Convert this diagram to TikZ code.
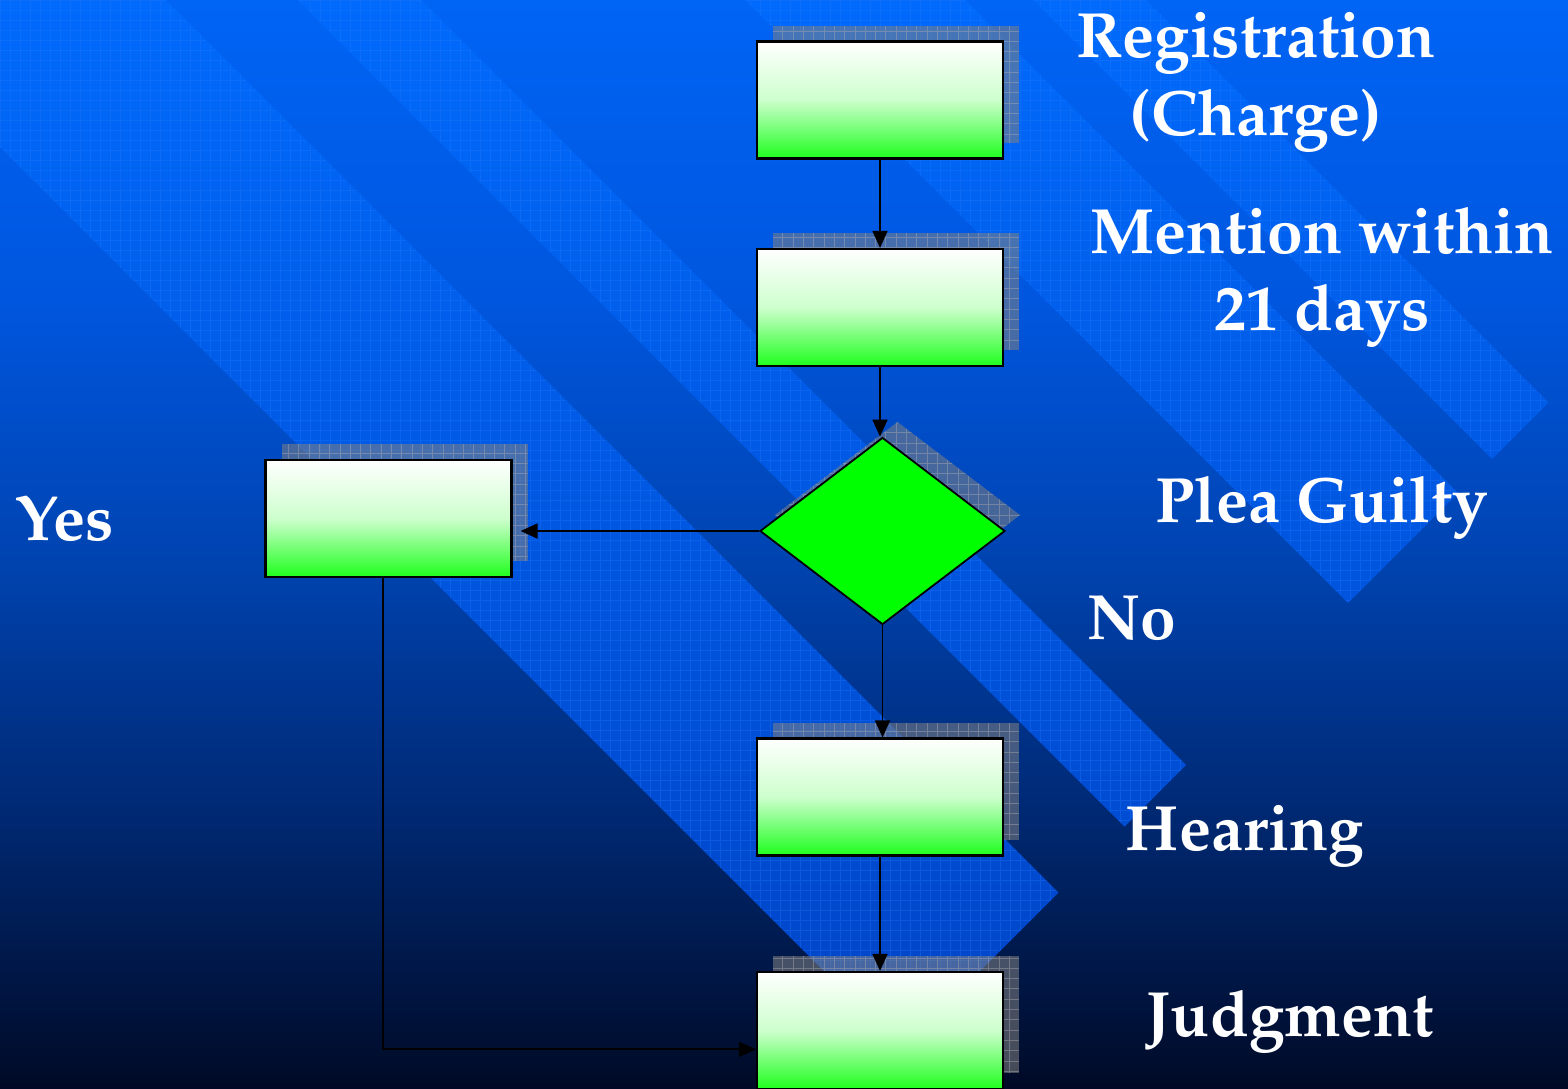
\documentclass[tikz,border=0pt]{standalone}
\usepackage[T1]{fontenc}
\usetikzlibrary{shapes.geometric,arrows.meta,calc}
\definecolor{bgA}{RGB}{0,100,245}
\definecolor{bgB}{RGB}{0,86,222}
\definecolor{bgC}{RGB}{0,68,178}
\definecolor{bgD}{RGB}{0,42,118}
\definecolor{bgE}{RGB}{0,10,38}
\definecolor{bandA}{RGB}{0,106,252}
\definecolor{bandB}{RGB}{0,66,196}
\definecolor{bandline}{RGB}{40,125,255}
\definecolor{boxG}{RGB}{30,255,30}
\definecolor{boxM}{RGB}{205,255,205}
\definecolor{diaG}{RGB}{0,255,0}
\definecolor{shfill}{RGB}{128,128,128}
\definecolor{shline}{RGB}{170,170,175}
\pgfdeclareverticalshading{bgsh}{100bp}{color(0bp)=(bgE); color(25bp)=(bgE); color(38.2bp)=(bgD); color(49.7bp)=(bgC); color(61.2bp)=(bgB); color(75bp)=(bgA); color(100bp)=(bgA)}
\pgfdeclareverticalshading{bandsh}{100bp}{color(0bp)=(bandB); color(25bp)=(bandB); color(75bp)=(bandA); color(100bp)=(bandA)}
\newcommand{\shadowrect}[4]{%
  \fill[shfill, opacity=.55] (#1,#2) rectangle (#3,#4);
  \begin{scope}
    \clip (#1,#2) rectangle (#3,#4);
    \draw[shgrid] (#1,#2) grid[step=10.3pt] (#3,#4);
  \end{scope}}
\newcommand{\bandpath}[2]{%
  ({(1951+#1)/2},{(1951-#1)/2}) -- ({(1951+#2)/2},{(1951-#2)/2}) --
  ({(#2-400)/2},{(-400-#2)/2}) -- ({(#1-400)/2},{(-400-#1)/2}) -- cycle}
\tikzset{
  fbox/.style={draw=black, line width=2.2pt, minimum width=246pt, minimum height=117pt,
    inner sep=0pt, top color=white, bottom color=boxG, middle color=boxM},
  dia/.style={diamond, draw=black, line width=1.8pt, fill=diaG, minimum width=245pt,
    minimum height=187pt, inner sep=0pt},
  arr/.style={line width=1.8pt, draw=black, -{Triangle[length=17pt,width=15pt]}},
  shgrid/.style={draw=shline, line width=.7pt, opacity=.45},
  bandgrid/.style={draw=bandline, line width=.5pt, opacity=.3},
  lab/.style={text=white, inner sep=0pt, anchor=base,
    font=\fontsize{64}{76}\fontfamily{ppl}\fontseries{b}\selectfont},
}
\begin{document}
\begin{tikzpicture}[x=1pt, y=-1pt]
\useasboundingbox (0,0) rectangle (1568,1088);
\clip (0,0) rectangle (1568,1088);
% background
\shade[shading=bgsh] (0,0) rectangle (1568,1088);
% diagonal bands
\begin{scope}
  \clip \bandpath{-147}{166} \bandpath{298}{421} \bandpath{745}{965} \bandpath{1033}{1146};
  \shade[shading=bandsh] (0,0) rectangle (1568,1088);
  \draw[bandgrid] (0,0) grid[step=10pt] (1568,1088);
\end{scope}
% shadows
\shadowrect{773}{25.5}{1019}{142.5}
\shadowrect{773}{233}{1019}{350}
\shadowrect{281.5}{444}{527.5}{561}
\shadowrect{773}{722.5}{1019}{839.5}
\shadowrect{773}{956}{1019}{1073}
\fill[shfill, opacity=.55] (897.5,422) -- (1020,515) -- (897.5,609) -- (775,515) -- cycle;
\begin{scope}
  \clip (897.5,422) -- (1020,515) -- (897.5,609) -- (775,515) -- cycle;
  \draw[shgrid] (770,415) grid[step=10.3pt] (1025,615);
\end{scope}
% nodes
\node[fbox] (reg) at (880,100) {};
\node[fbox] (men) at (880,307.5) {};
\node[dia] (plea) at (882.5,531) {};
\node[fbox] (yes) at (388.5,518.5) {};
\node[fbox] (hear) at (880,797) {};
\node[fbox] (jud) at (880,1030.5) {};
\coordinate (jin) at ($(jud.south west)!0.342!(jud.north west)$);
% connectors
\draw[arr] (reg) -- (men);
\draw[arr] (men.south) -- (men.south |- plea.north);
\draw[arr, shorten >=8pt] (plea.west) -- (plea.west -| yes.east);
\draw[arr] (plea.south) -- (plea.south |- hear.north);
\draw[arr] (hear) -- (jud);
\draw[arr] ([xshift=-5.5pt]yes.south) |- (jin);
% labels
\node[lab] (t-reg1) at (1256,57) {Registration};
\node[lab] (t-reg2) at (1256,135) {(Charge)};
\node[lab] (t-men1) at (1322,253) {Mention within};
\node[lab] (t-men2) at (1322,330) {21 days};
\node[lab] (t-plea) at (1322,522) {Plea Guilty};
\node[lab, anchor=base west] (t-no) at (1087,639) {No};
\node[lab, anchor=base west] (t-yes) at (15,540) {Yes};
\node[lab] (t-hear) at (1245,850) {Hearing};
\node[lab] (t-jud) at (1290,1036) {Judgment};
\end{tikzpicture}
\end{document}
